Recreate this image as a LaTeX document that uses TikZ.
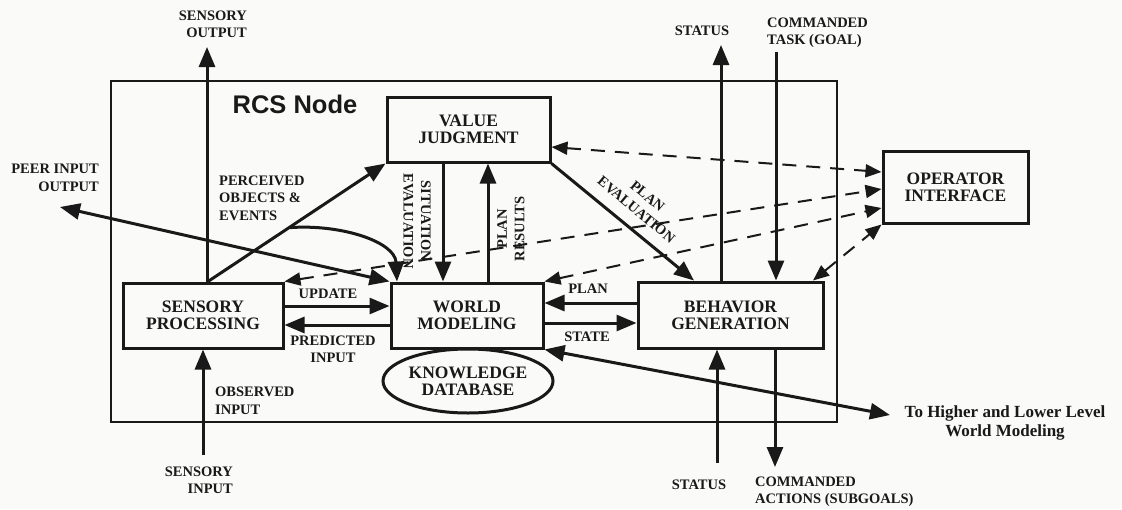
\documentclass[tikz,border=0pt]{standalone}
\usepackage{fontspec}
\setmainfont{Liberation Serif}
\newfontfamily\rcssans{Liberation Sans}
\usetikzlibrary{arrows.meta,shapes.geometric}
\newcommand\bxfont{\fontsize{17.5}{17}\selectfont\bfseries}
\newcommand\lbfont{\fontsize{14.5}{17.5}\selectfont\bfseries}
\definecolor{ink}{RGB}{25,25,25}
\definecolor{paper}{RGB}{250,250,248}
\tikzset{
  box/.style={draw=ink, line width=3pt, inner sep=0pt, align=center, font=\bxfont, text=ink},
  lbl/.style={inner sep=0pt, font=\lbfont, text=ink},
  arr/.style={draw=ink, line width=3pt, -{Triangle[length=20pt,width=16pt]}},
  arrr/.style={draw=ink, line width=3pt, {Triangle[length=20pt,width=16pt]}-{Triangle[length=20pt,width=16pt]}},
  darr/.style={draw=ink, line width=2pt, dash pattern=on 14pt off 10pt, {Triangle[length=16pt,width=13pt]}-{Triangle[length=16pt,width=13pt]}},
  plain/.style={draw=ink, line width=3pt}
}
\begin{document}
\begin{tikzpicture}[x=1pt,y=-1pt]
\fill[paper] (0,0) rectangle (1122,509);
\useasboundingbox (0,0) rectangle (1122,509);

% outer RCS node
\node[draw=ink, line width=2pt, inner sep=0pt, minimum width=726pt, minimum height=341pt] (rcs) at (474,251.5) {};
\node[inner sep=0pt, font=\rcssans\fontsize{25.5}{26}\selectfont\bfseries, text=ink] (rcslbl) at (295,104) {RCS Node};

% boxes
\node[box, minimum width=160pt, minimum height=65pt] (sp) at (203,315.5) {SENSORY\\PROCESSING};
\node[box, minimum width=152pt, minimum height=65pt] (wm) at (467,315.5) {WORLD\\MODELING};
\node[box, minimum width=163pt, minimum height=65pt] (vj) at (468.5,129.5) {VALUE\\JUDGMENT};
\node[box, minimum width=185pt, minimum height=66pt] (bg) at (730.5,315) {BEHAVIOR\\GENERATION};
\node[box, minimum width=145pt, minimum height=72pt] (oi) at (955.5,187) {OPERATOR\\INTERFACE};
\node[box, ellipse, minimum width=170pt, minimum height=64pt] (kd) at (468,381) {KNOWLEDGE\\DATABASE};

% free ends
\coordinate (so) at (207,47);
\coordinate (si) at (203,455);
\coordinate (peer) at (60,207);
\coordinate (th) at (890,415);
\coordinate (st) at (721,45);
\coordinate (ct) at (776,52);
\coordinate (sb) at (717,463);
\coordinate (ca) at (775,467);
\coordinate (pc) at (290,227.6);

% sensory processing
\draw[arr] (207,0 |- sp.north) -- (so);
\draw[arr] (si) -- (203,0 |- sp.south);
\draw[arr] (208,0 |- sp.north) -- (vj.south west);
\draw[arr] (pc) .. controls (342,224) and (395,242) .. (397,0 |- wm.north);
\draw[arrr] (peer) -- (wm.north west);
\draw[arr] (sp.east |- 0,306) -- (wm.west |- 0,306);
\draw[arr] (wm.west |- 0,325) -- (sp.east |- 0,325);

% value judgment
\draw[arr] (443,0 |- vj.south) -- (443,0 |- wm.north);
\draw[arr] (488,0 |- wm.north) -- (488,0 |- vj.south);
\draw[arr] (vj.south east) -- (694,0 |- bg.north);

% world modeling <-> behavior generation
\draw[arr] (bg.west |- 0,303) -- (wm.east |- 0,303);
\draw[arr] (wm.east |- 0,323) -- (bg.west |- 0,323);
\draw[arrr] (wm.south east) -- (th);

% behavior generation
\draw[arr] (721,0 |- bg.north) -- (st);
\draw[arr] (ct) -- (776,0 |- bg.north);
\draw[arr] (sb) -- (717,0 |- bg.south);
\draw[arr] (775,0 |- bg.south) -- (ca);

% operator interface
\draw[darr] (vj.east |- 0,147) -- (oi.west |- 0,172);
\draw[darr] (sp.north east) -- (oi.west |- 0,189);
\draw[darr] (wm.north east) -- (oi.west |- 0,208);
\draw[darr] (813,0 |- bg.north) -- (oi.south west);

% labels
\node[lbl, align=right, anchor=east] (l1) at (247,24.5) {SENSORY\\OUTPUT};
\node[lbl, align=right, anchor=east] (l2) at (99,178) {PEER INPUT\\OUTPUT};
\node[lbl, align=left, anchor=west] (l3) at (219,198) {PERCEIVED\\OBJECTS \&\\EVENTS};
\node[lbl] (l4) at (328,294) {UPDATE};
\node[lbl, align=center] (l5) at (333,349.5) {PREDICTED\\INPUT};
\node[lbl, align=left, anchor=west] (l6) at (215,401) {OBSERVED\\INPUT};
\node[lbl, align=right, anchor=east] (l7) at (233,480.5) {SENSORY\\INPUT};
\node[lbl, align=center, rotate=-90] (l8) at (417,221) {SITUATION\\EVALUATION};
\node[lbl, align=center, rotate=90] (l9) at (511,229) {PLAN\\RESULTS};
\node[lbl, align=center, rotate=-39.6] (l10) at (642,203) {PLAN\\EVALUATION};
\node[lbl] (l11) at (588,289) {PLAN};
\node[lbl] (l12) at (587,337) {STATE};
\node[lbl] (l13) at (702,31) {STATUS};
\node[lbl, align=left, anchor=west] (l14) at (767,32.5) {COMMANDED\\TASK (GOAL)};
\node[lbl] (l15) at (699,485) {STATUS};
\node[lbl, align=left, anchor=west] (l16) at (755,491.5) {COMMANDED\\ACTIONS (SUBGOALS)};
\node[inner sep=0pt, align=center, font=\fontsize{17}{19}\selectfont\bfseries, text=ink] (l17) at (1005,422.5) {To Higher and Lower Level\\World Modeling};
\end{tikzpicture}
\end{document}
